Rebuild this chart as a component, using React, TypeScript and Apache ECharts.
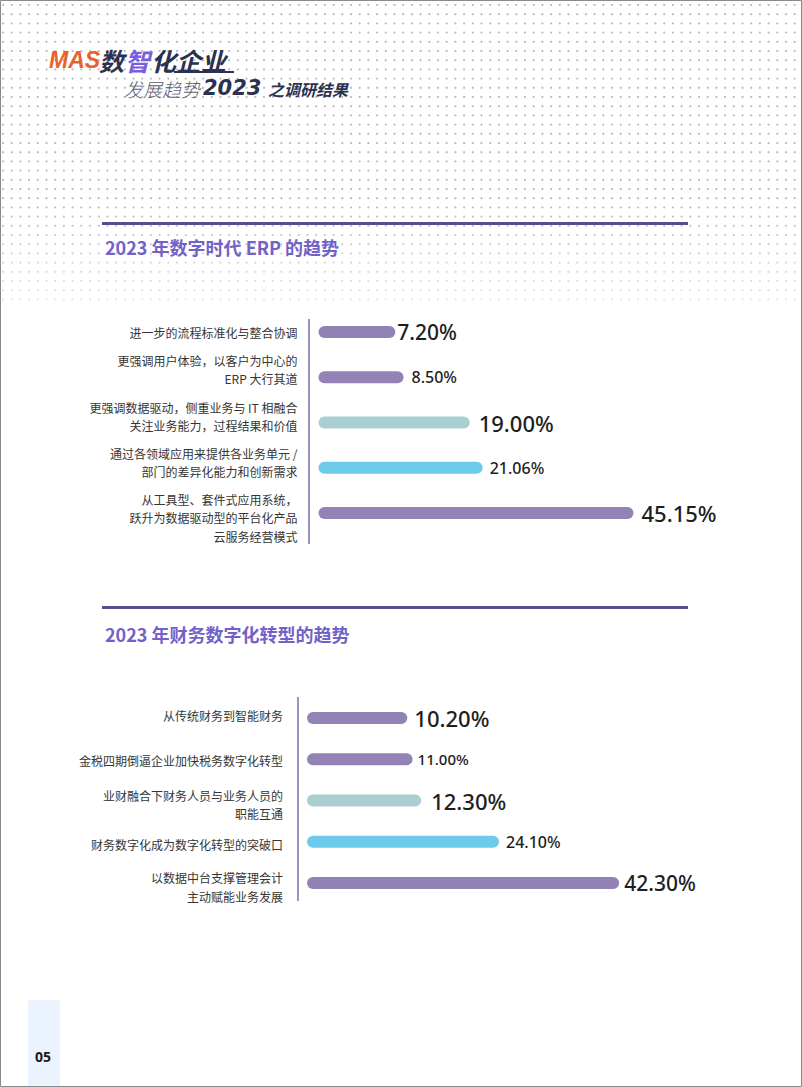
import React, { useEffect, useRef } from "react";
import * as echarts from "echarts";

// ---- data ----
const CAT1 = [
  "进一步的流程标准化与整合协调",
  "更强调用户体验，以客户为中心的\nERP 大行其道",
  "更强调数据驱动，侧重业务与 IT 相融合\n关注业务能力，过程结果和价值",
  "通过各领域应用来提供各业务单元 /\n部门的差异化能力和创新需求",
  "从工具型、套件式应用系统，\n跃升为数据驱动型的平台化产品\n云服务经营模式",
];
const VAL1 = [7.2, 8.5, 19.0, 21.06, 45.15];

const CAT2 = [
  "从传统财务到智能财务",
  "金税四期倒逼企业加快税务数字化转型",
  "业财融合下财务人员与业务人员的\n职能互通",
  "财务数字化成为数字化转型的突破口",
  "以数据中台支撑管理会计\n主动赋能业务发展",
];
const VAL2 = [10.2, 11.0, 12.3, 24.1, 42.3];

const TITLE1 = "2023 年数字时代 ERP 的趋势";
const TITLE2 = "2023 年财务数字化转型的趋势";
const PAGE_NO = "05";

// ---- styles ----
const PURPLE = "#9382B6";
const TEAL = "#A9CFD0";
const BLUE = "#6CCBEA";
const BAR_COLORS = [PURPLE, PURPLE, TEAL, BLUE, PURPLE];
const LBL_SIZE1 = [21, 16, 22, 16, 22];
const LBL_GAP1 = [2, 8, 9, 7, 8];
const LBL_SIZE2 = [22, 15, 22, 16, 21];
const LBL_GAP2 = [7, 5, 10, 7, 5];
// vertical nudge of category labels (px, negative = up)
const CAT_SHIFT1 = [0, -8, -6, -5, 5];
const CAT_SHIFT2 = [-3, 1, 4, 3, 4];
const BASE = 5; // visual start offset of the rounded bars

const W = 802;
const H = 1087;

function catLabel(shifts: number[], margin: number) {
  const rich: any = {};
  shifts.forEach((s, i) => {
    rich["r" + i] = {
      fontSize: 12,
      color: "#353535",
      lineHeight: 18.5,
      fontFamily: "Noto Sans CJK SC",
      align: "right",
      padding: s < 0 ? [0, 0, -2 * s, 0] : [2 * s, 0, 0, 0],
    };
  });
  return {
    interval: 0,
    hideOverlap: false,
    margin,
    fontSize: 12,
    color: "#353535",
    lineHeight: 18.5,
    fontFamily: "Noto Sans CJK SC",
    align: "right",
    formatter: (value: string, idx: number) =>
      value
        .split("\n")
        .map((l) => "{r" + idx + "|" + l + "}")
        .join("\n"),
    rich,
  };
}

function makeSeries(idx: number, vals: number[], sizes: number[], gaps: number[]) {
  const stack = "s" + idx;
  return [
    {
      type: "bar",
      xAxisIndex: idx,
      yAxisIndex: idx,
      stack,
      silent: true,
      barWidth: 12,
      data: vals.map((_, i) => ({
        value: BASE,
        itemStyle: { color: BAR_COLORS[i], borderRadius: [6, 0, 0, 6] },
      })),
      label: { show: false },
    },
    {
      type: "bar",
      xAxisIndex: idx,
      yAxisIndex: idx,
      stack,
      silent: true,
      barWidth: 12,
      data: vals.map((v, i) => ({
        value: v,
        itemStyle: { color: BAR_COLORS[i], borderRadius: [0, 6, 6, 0] },
        label: { fontSize: sizes[i], distance: gaps[i] },
      })),
      label: {
        show: true,
        position: "right",
        color: "#1e1e1e",
        fontFamily: "Noto Sans",
        fontWeight: 500,
        formatter: (p: any) => Number(p.value).toFixed(2) + "%",
      },
    },
  ];
}

function buildGraphic() {
  const els: any[] = [];
  // dotted background
  for (let y = 5; y <= 302; y += 9.2) {
    const fade = y < 200 ? 1 : Math.max(0.35, 1 - (y - 200) / 160);
    for (let x = 3; x < W; x += 8.7) {
      els.push({
        type: "circle",
        silent: true,
        shape: { cx: x, cy: y, r: 1.1 },
        style: { fill: "#b9b9c2", opacity: fade },
      });
    }
  }
  // page border
  els.push({
    type: "rect",
    silent: true,
    shape: { x: 0.5, y: 0.5, width: W - 1, height: H - 1 },
    style: { fill: "none", stroke: "#8a8a8a", lineWidth: 1 },
  });
  // header logo
  els.push({
    type: "text",
    x: 49,
    y: 60,
    style: {
      text: "MAS",
      fill: "#E8622A",
      fontSize: 23,
      fontWeight: "bold",
      fontStyle: "italic",
      fontFamily: "Liberation Sans",
      verticalAlign: "middle",
    },
  });
  const head = [
    { t: "数", c: "#2B3150", x: 99 },
    { t: "智", c: "#7A5EE0", x: 125 },
    { t: "化企业", c: "#2B3150", x: 151 },
  ];
  head.forEach((h) =>
    els.push({
      type: "text",
      x: h.x,
      y: 60,
      style: {
        text: h.t,
        fill: h.c,
        fontSize: 25,
        fontWeight: "bold",
        fontStyle: "italic",
        fontFamily: "Noto Sans CJK SC",
        verticalAlign: "middle",
      },
    })
  );
  els.push({
    type: "rect",
    silent: true,
    shape: { x: 174, y: 71, width: 60, height: 2 },
    style: { fill: "#2B3150" },
  });
  els.push({
    type: "text",
    x: 124,
    y: 88,
    style: {
      text: "发展趋势",
      fill: "#5B6072",
      fontSize: 19,
      fontWeight: 300,
      fontStyle: "italic",
      fontFamily: "Noto Sans CJK SC",
      verticalAlign: "middle",
    },
  });
  els.push({
    type: "text",
    x: 203,
    y: 88,
    style: {
      text: "2023",
      fill: "#2B3150",
      fontSize: 21,
      fontWeight: "bold",
      fontStyle: "italic",
      fontFamily: "DejaVu Sans",
      verticalAlign: "middle",
    },
  });
  els.push({
    type: "text",
    x: 268,
    y: 89,
    style: {
      text: "之调研结果",
      fill: "#2B3150",
      fontSize: 16,
      fontWeight: "bold",
      fontStyle: "italic",
      fontFamily: "Noto Sans CJK SC",
      verticalAlign: "middle",
    },
  });
  // section rules and titles
  const sections = [
    { lineY: 222, titleY: 247, title: TITLE1 },
    { lineY: 606, titleY: 634, title: TITLE2 },
  ];
  sections.forEach((s) => {
    els.push({
      type: "rect",
      silent: true,
      shape: { x: 102, y: s.lineY, width: 586, height: 3 },
      style: { fill: "#5A4A93" },
    });
    els.push({
      type: "text",
      x: 105,
      y: s.titleY,
      style: {
        text: s.title,
        fill: "#7262C8",
        fontSize: 18,
        fontWeight: "bold",
        fontFamily: "Noto Sans CJK SC",
        verticalAlign: "middle",
      },
    });
  });
  // vertical axis lines
  els.push({
    type: "rect",
    silent: true,
    shape: { x: 308, y: 319, width: 2, height: 225 },
    style: { fill: "#9D93C0" },
  });
  els.push({
    type: "rect",
    silent: true,
    shape: { x: 297, y: 697, width: 2, height: 204 },
    style: { fill: "#9D93C0" },
  });
  // page number
  els.push({
    type: "rect",
    silent: true,
    shape: { x: 28, y: 1000, width: 32, height: 86 },
    style: { fill: "#EBF4FE" },
  });
  els.push({
    type: "text",
    x: 43,
    y: 1056,
    style: {
      text: PAGE_NO,
      fill: "#1a1a1a",
      fontSize: 14,
      fontWeight: "bold",
      fontFamily: "Noto Sans",
      align: "center",
      verticalAlign: "middle",
    },
  });
  return els;
}

export default function App() {
  const ref = useRef<HTMLDivElement>(null);
  useEffect(() => {
    if (!ref.current) return;
    document.body.style.margin = "0";
    const chart = echarts.init(ref.current, null, { renderer: "svg" });
    chart.setOption({
      animation: false,
      backgroundColor: "#ffffff",
      grid: [
        { left: 318.5, top: 309.5, width: 315, height: 226 },
        { left: 307, top: 697.5, width: 396, height: 206 },
      ],
      xAxis: [
        { type: "value", gridIndex: 0, min: 0, max: 50, show: false },
        { type: "value", gridIndex: 1, min: 0, max: 60, show: false },
      ],
      yAxis: [
        {
          type: "category",
          gridIndex: 0,
          data: CAT1,
          inverse: true,
          axisLine: { show: false },
          axisTick: { show: false },
          axisLabel: catLabel(CAT_SHIFT1, 21),
        },
        {
          type: "category",
          gridIndex: 1,
          data: CAT2,
          inverse: true,
          axisLine: { show: false },
          axisTick: { show: false },
          axisLabel: catLabel(CAT_SHIFT2, 24),
        },
      ],
      series: [
        ...makeSeries(0, VAL1, LBL_SIZE1, LBL_GAP1),
        ...makeSeries(1, VAL2, LBL_SIZE2, LBL_GAP2),
      ],
      graphic: { elements: buildGraphic() },
    });
    return () => chart.dispose();
  }, []);
  return (
    <div
      ref={ref}
      style={{ position: "absolute", left: 0, top: 0, width: W, height: H }}
    />
  );
}
